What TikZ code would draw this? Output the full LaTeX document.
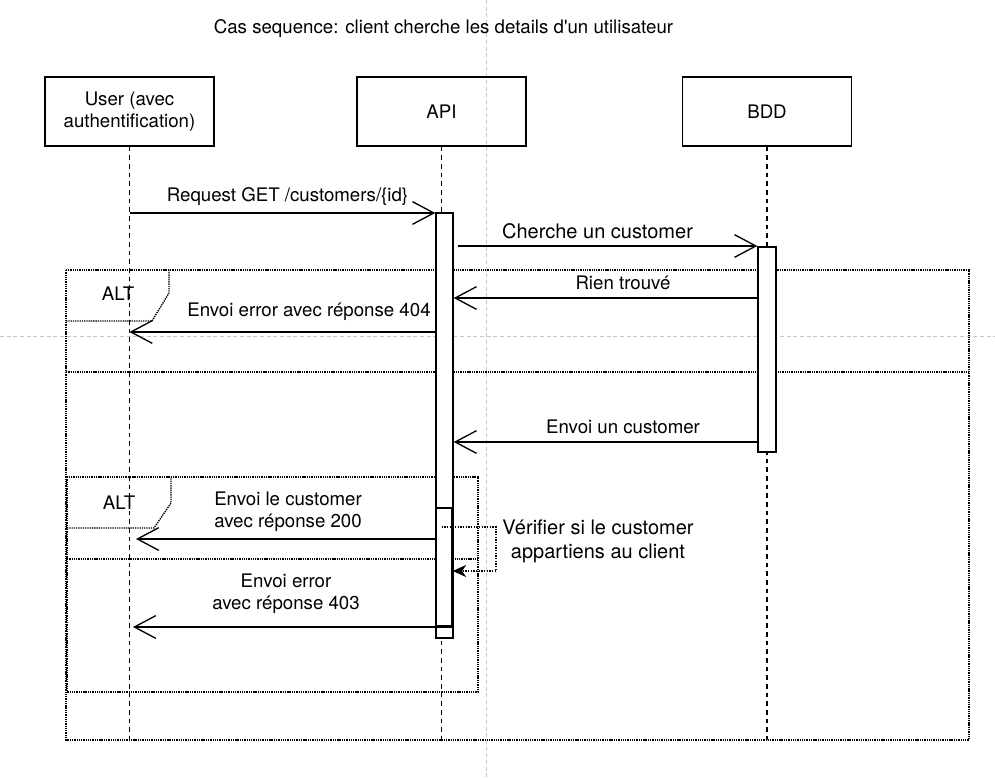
\documentclass[tikz,border=0pt]{standalone}
\usepackage{fontspec}
\setmainfont{TeX Gyre Heros}
\usetikzlibrary{calc}
\usetikzlibrary{fit}
\usetikzlibrary{arrows.meta}

\begin{document}
\begin{tikzpicture}[x=0.75pt,y=-0.75pt,
  lbl/.style={font=\fontsize{14}{16.5}\selectfont,align=center,inner sep=0pt},
  biglbl/.style={font=\fontsize{15}{18.5}\selectfont,align=center,inner sep=0pt},
  actor/.style={lbl,draw,line width=1.1pt,minimum width=127pt,minimum height=51.5pt},
  lifeline/.style={line width=1.2pt,dash pattern=on 3.5pt off 3pt},
  actbar/.style={draw,fill=white,line width=1.1pt,inner sep=0pt},
  msg/.style={line width=1pt,-{Straight Barb[length=16pt,width=17pt]}},
  selfmsg/.style={line width=0.9pt,dash pattern=on 1pt off 1pt,-{Stealth[length=10pt,width=9pt,inset=3pt]}},
  frame/.style={line width=1pt,dash pattern=on 1pt off 0.7pt},
  guide/.style={gray!45,line width=0.5pt,dash pattern=on 3pt off 2pt}]
  \useasboundingbox (0,0) rectangle (995,780);
  \draw [guide] (486.7,0) -- (486.7,780);
  \draw [guide] (0,336.7) -- (995,336.7);

  \node [lbl] (title) at (443.5,29) {Cas sequence: client cherche les details d\textquotesingle un utilisateur};

  \node [actor] (user) at (129.5,111.5) {User (avec\\authentification)};
  \node [actor] (api) at (441.5,111.5) {API};
  \node [actor] (bdd) at (767,111.5) {BDD};
  \coordinate (lifeend) at (0,740);

  \draw [frame] (66,270) rectangle (969,740);
  \draw [frame] (66,372) -- (969,372);
  \draw [frame] (66,321) -- (152,321) -- (169,293) -- (169,270);
  \node [lbl] (alt1) at (118,294) {ALT};
  \draw [frame] (67,477) rectangle (478,692);
  \draw [frame] (67,559) -- (478,559);
  \draw [frame] (67,528) -- (154,528) -- (171,503) -- (171,477);
  \node [lbl] (alt2) at (119,503) {ALT};

  \draw [lifeline] (user.south) -- (user.south |- lifeend);
  \draw [lifeline] (api.south) -- (api.south |- lifeend);
  \draw [lifeline] (bdd.south) -- (bdd.south |- lifeend);

  \node [actbar, fit={(436,213) (453,638)}] (actA) {};
  \node [actbar, fit={(436,508) (452,626)}] (actB) {};
  \node [actbar, fit={(758,247) (776,452)}] (actC) {};

  \coordinate (m1) at (0,213);
  \coordinate (m2) at (0,246);
  \coordinate (m3) at (0,298);
  \coordinate (m4) at (0,332);
  \coordinate (m5) at (0,442);
  \coordinate (m6) at (0,539);
  \coordinate (m8) at (0,627);
  \coordinate (s1) at (0,527);
  \coordinate (s2) at (0,571);
  \coordinate (loop) at (496,0);
  \coordinate (u6) at ($ (user.south |- m6)+(6.5,0) $);
  \coordinate (u8) at ($ (user.south |- m8)+(3.5,0) $);

  \draw [msg] (user.south |- m1) -- (actA.west |- m1);
  \draw [msg] ($ (actA.east |- m2)+(4,0) $) -- (actC.west |- m2);
  \draw [msg] (actC.west |- m3) -- (actA.east |- m3);
  \draw [msg] (actA.west |- m4) -- (user.south |- m4);
  \draw [msg] (actC.west |- m5) -- (actA.east |- m5);
  \draw [msg] ($ (actB.west |- m6)+(2,0) $) -- (u6);
  \draw [msg] (actB.east |- m8) -- (u8);
  \draw [selfmsg] (api.south |- s1) -| (loop |- s2) -- (actB.east |- s2);

  \node [lbl] (req) at (287.5,197) {Request GET /customers/\{id\}};
  \node [biglbl] (cherche) at (597.5,231) {Cherche un customer};
  \node [lbl] (rien) at (623,283) {Rien trouvé};
  \node [lbl] (err404) at (309,312) {Envoi error avec réponse 404};
  \node [lbl] (envoiun) at (623,427) {Envoi un customer};
  \node [lbl] (envoi200) at (288,511.5) {Envoi le customer\\avec réponse 200};
  \node [lbl] (err403) at (286,594) {Envoi error\\avec réponse 403};
  \node [biglbl] (verif) at (598,541.5) {Vérifier si le customer\\appartiens au client};
\end{tikzpicture}
\end{document}
